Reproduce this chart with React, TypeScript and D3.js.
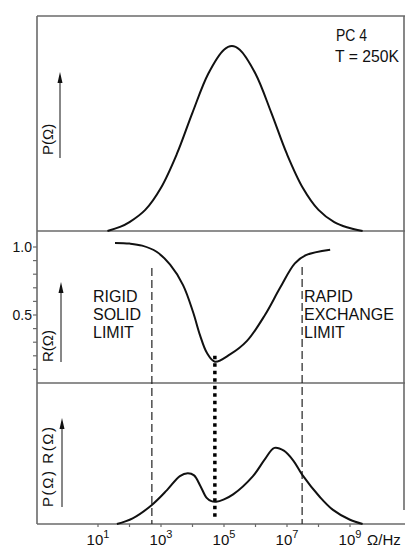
import React from "react";
import * as d3 from "d3";

// ---- data (frequency given as log10 of Ω/Hz) ----
const pExp = [1.3, 1.7, 2.0, 2.5, 3.0, 3.5, 4.0, 4.5, 5.0, 5.25, 5.5, 6.0, 6.5, 7.0, 7.5, 8.0, 8.5, 8.9, 9.4];
const pVal = [0, 0.022, 0.048, 0.114, 0.234, 0.415, 0.64, 0.85, 0.98, 1.0, 0.98, 0.85, 0.64, 0.415, 0.234, 0.114, 0.048, 0.02, 0];

const rExp = [1.54, 2.0, 2.4, 2.86, 3.29, 3.7, 4.02, 4.24, 4.46, 4.71, 5.19, 5.73, 6.3, 6.78, 7.25, 7.6, 8.37];
const rVal = [1.03, 1.025, 1.01, 0.965, 0.87, 0.72, 0.52, 0.35, 0.22, 0.157, 0.21, 0.31, 0.5, 0.7, 0.88, 0.94, 0.98];

const prExp = [1.6, 2.1, 2.71, 3.19, 3.6, 3.85, 4.05, 4.25, 4.45, 4.6, 4.75, 5.0, 5.29, 5.92, 6.3, 6.6, 6.9, 7.2, 7.48, 8.05, 8.46, 9.0, 9.4];
const prVal = [0, 0.04, 0.135, 0.24, 0.34, 0.36, 0.345, 0.27, 0.185, 0.162, 0.158, 0.175, 0.21, 0.34, 0.46, 0.54, 0.52, 0.45, 0.35, 0.19, 0.1, 0.03, 0];

const rigidLimitExp = 2.71;
const rapidLimitExp = 7.48;
const minimumExp = 4.71;
const minimumR = 0.157;

const xTickExps = [1, 2, 3, 4, 5, 6, 7, 8, 9];
const xLabelExps = [1, 3, 5, 7, 9];
const rTicks = [0.1, 0.2, 0.3, 0.4, 0.5, 0.6, 0.7, 0.8, 0.9, 1.0];
const rLabels = [0.5, 1.0];

// ---- layout ----
const W = 405;
const H = 547;
const left = 37;
const right = 404;
const top = 16;
const div1 = 231;
const div2 = 383;
const bottom = 524;
const FONT = "'Liberation Sans', Arial, sans-serif";
const ink = "#111";
const frame = "#6a6a6a";

export default function App() {
  const x = d3.scaleLog().domain([1e1, 1e9]).range([98, 350]);
  const yP = d3.scaleLinear().domain([0, 1]).range([div1, 46]);
  const yR = d3.scaleLinear().domain([0, 1]).range([div2, 247]);
  const yPR = d3.scaleLinear().domain([0, 1]).range([bottom, div2]);

  const mk = (ex: number[], vals: number[], y: d3.ScaleLinear<number, number>) =>
    d3
      .line<number>()
      .x((_, i) => x(Math.pow(10, ex[i])))
      .y((v) => y(v))
      .curve(d3.curveCatmullRom.alpha(0.5))(vals) || "";

  const pPath = mk(pExp, pVal, yP);
  const rPath = mk(rExp, rVal, yR);
  const prPath = mk(prExp, prVal, yPR);

  const xRigid = x(Math.pow(10, rigidLimitExp));
  const xRapid = x(Math.pow(10, rapidLimitExp));
  const xMin = x(Math.pow(10, minimumExp));

  const arrow = (ax: number, y0: number, y1: number) => (
    <g>
      <line x1={ax} x2={ax} y1={y0} y2={y1 + 8} stroke={ink} strokeWidth={1} />
      <path d={`M${ax},${y1} L${ax - 2.5},${y1 + 11} L${ax + 2.5},${y1 + 11} Z`} fill={ink} />
    </g>
  );

  return (
    <svg
      width={W}
      height={H}
      style={{ position: "absolute", left: 0, top: 0, background: "#fff" }}
      fontFamily={FONT}
    >
      {/* frame */}
      <g stroke={frame} strokeWidth={1.6} fill="none">
        <line x1={left} x2={left} y1={top} y2={bottom} />
        <line x1={right} x2={right} y1={top} y2={bottom - 14} />
        <line x1={left} x2={W} y1={top} y2={top} />
        <line x1={left} x2={W} y1={div1} y2={div1} />
        <line x1={left} x2={W} y1={div2} y2={div2} />
        <line x1={left} x2={W} y1={bottom} y2={bottom} />
      </g>

      {/* x ticks */}
      {xTickExps.map((e) => (
        <line key={e} x1={x(Math.pow(10, e))} x2={x(Math.pow(10, e))} y1={bottom} y2={bottom + 3} stroke={frame} strokeWidth={1.2} />
      ))}
      {xLabelExps.map((e) => (
        <text key={e} x={x(Math.pow(10, e))} y={545} textAnchor="middle" fontSize={15} fill={ink}>
          10
          <tspan dy={-7} fontSize={11}>{e}</tspan>
        </text>
      ))}
      <text x={367} y={545} fontSize={15} fill={ink}>Ω/Hz</text>

      {/* R axis ticks */}
      {rTicks.map((t) => (
        <line key={t} x1={left - 4} x2={left} y1={yR(t)} y2={yR(t)} stroke={frame} strokeWidth={1.2} />
      ))}
      {rLabels.map((t) => (
        <text key={t} x={32} y={yR(t) + 5} textAnchor="end" fontSize={14} fill={ink}>
          {t.toFixed(1)}
        </text>
      ))}

      {/* limit lines */}
      <g stroke="#222" strokeWidth={1.2} strokeDasharray="8 4">
        <line x1={xRigid} x2={xRigid} y1={268} y2={bottom} />
        <line x1={xRapid} x2={xRapid} y1={267} y2={bottom} />
      </g>
      <line x1={xMin} x2={xMin} y1={yR(minimumR) - 6} y2={518} stroke="#000" strokeWidth={3.5} strokeDasharray="3.5 4" />

      {/* curves */}
      <path d={pPath} fill="none" stroke={ink} strokeWidth={2} />
      <path d={rPath} fill="none" stroke={ink} strokeWidth={2} />
      <path d={prPath} fill="none" stroke={ink} strokeWidth={2} />

      {/* axis labels with arrows */}
      <text transform="translate(53,155) rotate(-90)" fontSize={15} fill={ink}>P(Ω)</text>
      {arrow(60, 158, 72)}
      <text transform="translate(53,362) rotate(-90)" fontSize={15} fill={ink}>R(Ω)</text>
      {arrow(61, 362, 282)}
      <text transform="translate(53,507) rotate(-90)" fontSize={15} fill={ink} textLength={80} lengthAdjust="spacing">P(Ω) R(Ω)</text>
      {arrow(62, 507, 418)}

      {/* annotations */}
      <text x={336} y={41} fontSize={17} fill={ink} textLength={31} lengthAdjust="spacingAndGlyphs">PC 4</text>
      <text x={335} y={62} fontSize={17} fill={ink} textLength={64} lengthAdjust="spacingAndGlyphs">T = 250K</text>

      <g fontSize={16} fill={ink}>
        <text x={93} y={302}>RIGID</text>
        <text x={93} y={320}>SOLID</text>
        <text x={93} y={338}>LIMIT</text>
        <text x={304} y={302}>RAPID</text>
        <text x={304} y={320}>EXCHANGE</text>
        <text x={304} y={338}>LIMIT</text>
      </g>
    </svg>
  );
}
